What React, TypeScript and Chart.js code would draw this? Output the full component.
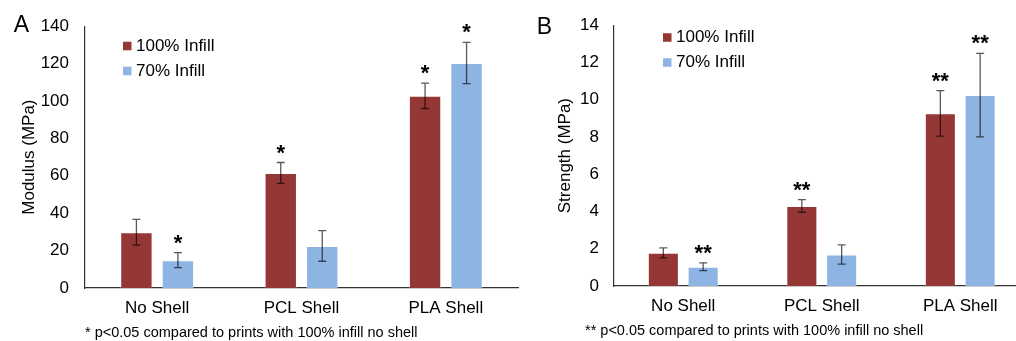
import React, { useEffect, useRef } from 'react';
import { Chart, registerables } from 'chart.js';

Chart.register(...registerables);

const FONT = "'Liberation Sans', Arial, Helvetica, sans-serif";

const categories = ['No Shell', 'PCL Shell', 'PLA Shell'];
const seriesLabels = ['100% Infill', '70% Infill'];
const seriesColors = ['#953735', '#8DB4E2'];

const modulus100 = [29.8, 61.5, 102.8];
const modulus100Err = [6.9, 5.6, 6.8];
const modulus70 = [14.9, 22.5, 120.3];
const modulus70Err = [4.0, 8.2, 11.0];
const modulusSig100 = ['', '*', '*'];
const modulusSig70 = ['*', '', '*'];
const modulusAxis = [0, 140, 20];

const strength100 = [1.78, 4.3, 9.27];
const strength100Err = [0.27, 0.34, 1.22];
const strength70 = [1.03, 1.69, 10.25];
const strength70Err = [0.21, 0.52, 2.24];
const strengthSig100 = ['', '**', '**'];
const strengthSig70 = ['**', '', '**'];
const strengthAxis = [0, 14, 2];

const annotPlugin = {
  id: 'annot',
  afterDatasetsDraw(chart: any, _args: any, opts: any) {
    const ctx = chart.ctx;
    const ys = chart.scales.y;
    chart.data.datasets.forEach((ds: any, di: number) => {
      const meta = chart.getDatasetMeta(di);
      const errs = opts.errors[di];
      const sigs = opts.sigs[di];
      meta.data.forEach((bar: any, i: number) => {
        const v = ds.data[i];
        const e = errs[i];
        const x = bar.x;
        const yt = ys.getPixelForValue(v + e);
        const yb = ys.getPixelForValue(v - e);
        ctx.save();
        ctx.strokeStyle = 'rgba(0,0,0,0.65)';
        ctx.lineWidth = 1.3;
        ctx.beginPath();
        ctx.moveTo(x, yt);
        ctx.lineTo(x, yb);
        ctx.moveTo(x - 4, yt);
        ctx.lineTo(x + 4, yt);
        ctx.moveTo(x - 4, yb);
        ctx.lineTo(x + 4, yb);
        ctx.stroke();
        if (sigs[i]) {
          ctx.fillStyle = '#000';
          ctx.font = `bold 22px ${FONT}`;
          ctx.textAlign = 'center';
          ctx.textBaseline = 'alphabetic';
          ctx.fillText(sigs[i], x, yt - 15 + 12);
        }
        ctx.restore();
      });
    });
  },
  afterDraw(chart: any, _args: any, opts: any) {
    const ctx = chart.ctx;
    ctx.save();
    ctx.fillStyle = '#000';
    ctx.font = `23px ${FONT}`;
    ctx.textAlign = 'center';
    ctx.textBaseline = 'middle';
    ctx.fillText(opts.letter, opts.letterX, opts.letterY);
    chart.data.datasets.forEach((ds: any, di: number) => {
      const cy = opts.legendY + di * 25;
      ctx.fillStyle = ds.backgroundColor;
      ctx.fillRect(opts.legendX, cy - 4.25, 8.5, 8.5);
      ctx.fillStyle = '#000';
      ctx.font = `17px ${FONT}`;
      ctx.textAlign = 'left';
      ctx.textBaseline = 'middle';
      ctx.fillText(ds.label, opts.legendX + 13, cy);
    });
    ctx.font = `14.5px ${FONT}`;
    ctx.textAlign = 'left';
    ctx.textBaseline = 'middle';
    ctx.fillStyle = '#000';
    ctx.fillText(opts.footnote, opts.footX, opts.footY);
    ctx.restore();
  },
};

function makeConfig(p: any) {
  return {
    type: 'bar',
    data: {
      labels: categories,
      datasets: [
        {
          label: seriesLabels[0],
          data: p.a,
          backgroundColor: seriesColors[0],
          borderColor: 'rgba(255,255,255,0.3)',
          borderWidth: 1,
          categoryPercentage: 0.575,
          barPercentage: 0.78,
        },
        {
          label: seriesLabels[1],
          data: p.b,
          backgroundColor: seriesColors[1],
          borderColor: 'rgba(255,255,255,0.3)',
          borderWidth: 1,
          categoryPercentage: 0.575,
          barPercentage: 0.78,
        },
      ],
    },
    options: {
      responsive: false,
      animation: false,
      layout: { padding: { top: p.top, right: p.right, left: 0, bottom: 0 } },
      plugins: {
        legend: { display: false },
        tooltip: { enabled: false },
        annot: {
          errors: [p.aErr, p.bErr],
          sigs: [p.aSig, p.bSig],
          letter: p.letter,
          letterX: p.letterX,
          letterY: p.letterY,
          legendX: p.legendX,
          legendY: p.legendY,
          footnote: p.footnote,
          footX: p.footX,
          footY: p.footY,
        },
      },
      scales: {
        x: {
          grid: { display: false, drawTicks: false },
          border: { color: '#333', width: 1.2 },
          ticks: { font: { family: FONT, size: 17 }, color: '#000', padding: 10 },
          afterFit: (s: any) => {
            s.height = p.xHeight;
          },
        },
        y: {
          min: p.axis[0],
          max: p.axis[1],
          grid: { display: false, drawTicks: false },
          border: { color: '#333', width: 1.2 },
          ticks: {
            stepSize: p.axis[2],
            padding: p.tickPad,
            font: { family: FONT, size: 17 },
            color: '#000',
          },
          title: {
            display: true,
            text: p.title,
            color: '#000',
            font: { family: FONT, size: 17 },
            padding: { top: p.titlePad, bottom: 0 },
          },
          afterFit: (s: any) => {
            s.width = p.yWidth;
          },
        },
      },
    },
    plugins: [annotPlugin],
  };
}

function Panel({ params, left }: { params: any; left: number }) {
  const ref = useRef<HTMLCanvasElement>(null);
  useEffect(() => {
    const chart = new Chart(ref.current as HTMLCanvasElement, makeConfig(params) as any);
    return () => chart.destroy();
  }, []);
  return (
    <div style={{ position: 'absolute', left, top: 0, width: 530, height: 341 }}>
      <canvas ref={ref} width={530} height={341} style={{ display: 'block' }} />
    </div>
  );
}

const leftParams = {
  a: modulus100,
  aErr: modulus100Err,
  b: modulus70,
  bErr: modulus70Err,
  aSig: modulusSig100,
  bSig: modulusSig70,
  axis: modulusAxis,
  title: 'Modulus (MPa)',
  top: 25,
  right: 12,
  xHeight: 53,
  yWidth: 85,
  tickPad: 16,
  titlePad: 18.8,
  letter: 'A',
  letterX: 21.5,
  letterY: 26,
  legendX: 123,
  legendY: 46,
  footnote: '* p<0.05 compared to prints with 100% infill no shell',
  footX: 85,
  footY: 333,
};

const rightParams = {
  a: strength100,
  aErr: strength100Err,
  b: strength70,
  bErr: strength70Err,
  aSig: strengthSig100,
  bSig: strengthSig70,
  axis: strengthAxis,
  title: 'Strength (MPa)',
  top: 23,
  right: 30.5,
  xHeight: 55,
  yWidth: 84,
  tickPad: 15,
  titlePad: 25.5,
  letter: 'B',
  letterX: 14.5,
  letterY: 27.5,
  legendX: 133,
  legendY: 37.5,
  footnote: '** p<0.05 compared to prints with 100% infill no shell',
  footX: 55,
  footY: 331,
};

export default function App() {
  return (
    <div
      style={{
        position: 'fixed',
        left: 0,
        top: 0,
        width: 1016,
        height: 341,
        overflow: 'hidden',
        background: '#fff',
      }}
    >
      <Panel params={leftParams} left={0} />
      <Panel params={rightParams} left={530} />
    </div>
  );
}
